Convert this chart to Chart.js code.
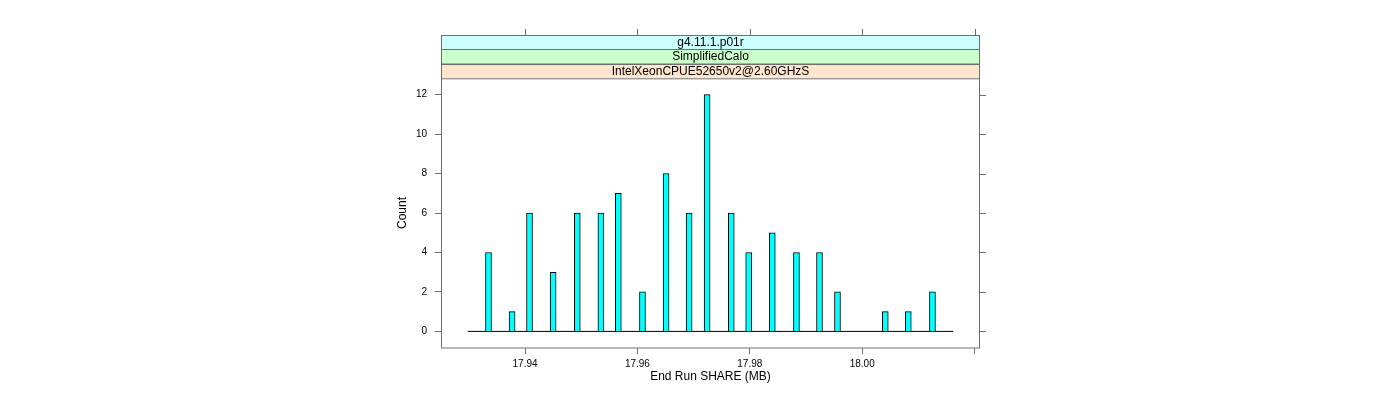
<!DOCTYPE html>
<html>
<head>
<meta charset="utf-8">
<script src="https://cdn.jsdelivr.net/npm/chart.js@4.4.0/dist/chart.umd.min.js"></script>
<style>
  html, body { margin: 0; padding: 0; background: #fff; }
  #wrap { width: 1400px; height: 400px; }
</style>
</head>
<body>
<div id="wrap"><canvas id="sharechart"></canvas></div>
<script>
// End Run SHARE (MB) values and how many runs landed on each
const shareValues = [17.9335, 17.9377, 17.9408, 17.9450, 17.9493, 17.9535, 17.9566, 17.9609, 17.9651, 17.9692,
  17.9724, 17.9767, 17.9798, 17.9840, 17.9883, 17.9924, 17.9956, 18.0041, 18.0082, 18.0125]
const counts = [4, 1, 6, 3, 6, 6, 7, 2, 8, 6, 12, 6, 4, 5, 4, 4, 2, 1, 1, 2]

// zero line under the bars
const baseLine = [17.9298, 18.0162]

const xTicks = [17.94, 17.96, 17.98, 18.00, 18.02]
const xTickLabels = ['17.94', '17.96', '17.98', '18.00', '']
const yTicks = [0, 2, 4, 6, 8, 10, 12]

// strips, top to bottom
const stripLabels = ['g4.11.1.p01r', 'SimplifiedCalo', 'IntelXeonCPUE52650v2@2.60GHzS']
const stripColors = ['#CCFFFF', '#CCFFCC', '#FFE5CC']

const FONT = 'Liberation Sans, Arial, Helvetica, sans-serif'
const frameColor = '#6e6e6e'

// lattice style frame: strips on top, ticks on the top and right sides too
const latticeFrame = {
  id: 'latticeFrame',
  afterDraw(chart) {
    const ctx = chart.ctx
    const area = chart.chartArea
    const xs = chart.scales.x
    const ys = chart.scales.y
    const stripH = 14.3
    const top = area.top - stripH * stripLabels.length

    ctx.save()
    // strips
    stripLabels.forEach((label, i) => {
      const y0 = top + i * stripH
      ctx.fillStyle = stripColors[i]
      ctx.fillRect(area.left, y0, area.right - area.left, stripH)
      ctx.strokeStyle = frameColor
      ctx.lineWidth = 1
      ctx.strokeRect(area.left + 0.5, Math.round(y0) + 0.5, area.right - area.left - 1, stripH)
      ctx.fillStyle = '#000'
      ctx.font = '12px ' + FONT
      ctx.textAlign = 'center'
      ctx.textBaseline = 'middle'
      ctx.fillText(label, (area.left + area.right) / 2, y0 + stripH / 2 + 0.5)
    })

    // panel box
    ctx.strokeStyle = frameColor
    ctx.lineWidth = 1
    ctx.strokeRect(area.left + 0.5, Math.round(top) + 0.5, area.right - area.left - 1, area.bottom - Math.round(top) - 0.5)

    // top ticks
    ctx.beginPath()
    xTicks.forEach(v => {
      const px = Math.round(xs.getPixelForValue(v)) + 0.5
      ctx.moveTo(px, Math.round(top))
      ctx.lineTo(px, Math.round(top) - 6)
    })
    // right ticks
    yTicks.forEach(v => {
      const py = Math.round(ys.getPixelForValue(v)) + 0.5
      ctx.moveTo(area.right, py)
      ctx.lineTo(area.right + 6, py)
    })
    ctx.stroke()
    ctx.restore()
  }
}

const ctx = document.getElementById('sharechart').getContext('2d')
// eslint-disable-next-line no-unused-vars
const chart = new Chart(ctx, {
  type: 'bar',
  data: {
    datasets: [{
      type: 'line',
      data: baseLine.map(v => ({ x: v, y: 0 })),
      borderColor: '#000',
      borderWidth: 1,
      pointRadius: 0,
      order: 2
    }, {
      data: shareValues.map((v, i) => ({ x: v, y: counts[i] })),
      backgroundColor: '#00FFFF',
      borderColor: '#000',
      borderWidth: 1,
      barThickness: 6,
      order: 1
    }]
  },
  options: {
    responsive: true,
    maintainAspectRatio: false,
    animation: false,
    layout: {
      padding: { left: 395, right: 420, top: 78, bottom: 16 }
    },
    plugins: {
      legend: { display: false },
      tooltip: { enabled: false }
    },
    scales: {
      x: {
        type: 'linear',
        min: 17.92505,
        max: 18.02096,
        offset: false,
        afterBuildTicks: scale => { scale.ticks = xTicks.map(v => ({ value: v })) },
        afterFit: scale => { scale.height = 36 },
        border: { display: false },
        grid: { offset: false, drawOnChartArea: false, drawTicks: true, tickLength: 6, color: frameColor },
        ticks: {
          padding: 4,
          maxRotation: 0,
          autoSkip: false,
          color: '#000',
          font: { family: FONT, size: 10 },
          callback: (value, index) => xTickLabels[index]
        },
        title: {
          display: true,
          text: 'End Run SHARE (MB)',
          color: '#000',
          font: { family: FONT, size: 12 },
          padding: 0
        }
      },
      y: {
        min: -0.84,
        max: 12.84,
        afterBuildTicks: scale => { scale.ticks = yTicks.map(v => ({ value: v })) },
        afterFit: scale => { scale.width = 46 },
        border: { display: false },
        grid: { drawOnChartArea: false, drawTicks: true, tickLength: 6, color: frameColor },
        ticks: {
          padding: 8,
          color: '#000',
          font: { family: FONT, size: 10 }
        },
        title: {
          display: true,
          text: 'Count',
          color: '#000',
          font: { family: FONT, size: 12 },
          padding: 0
        }
      }
    }
  },
  plugins: [latticeFrame]
})
</script>
</body>
</html>
